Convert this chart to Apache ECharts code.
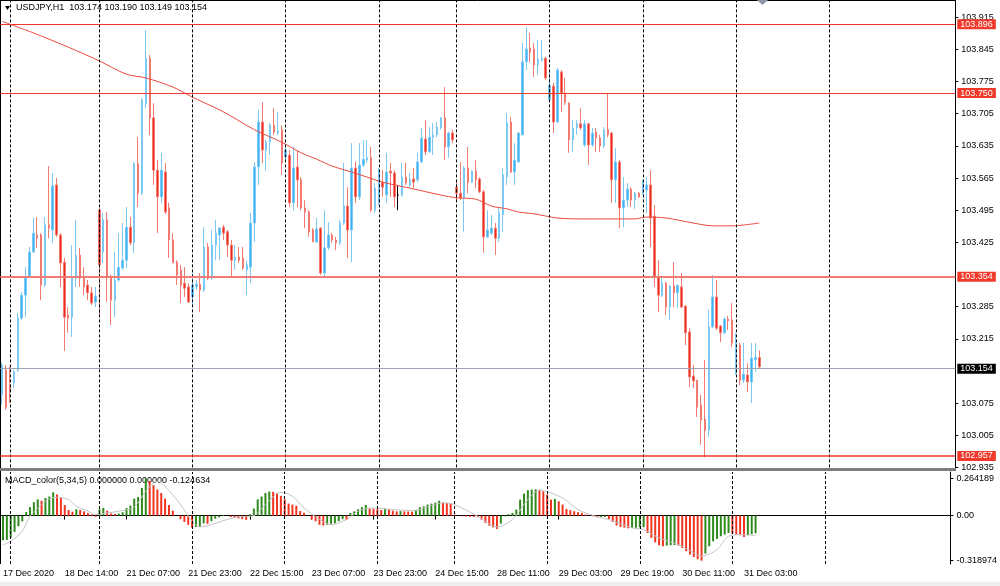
<!DOCTYPE html>
<html><head><meta charset="utf-8">
<script src="https://cdn.jsdelivr.net/npm/echarts@6/dist/echarts.min.js"></script>
<style>html,body{margin:0;padding:0;background:#fff}#c{width:1000px;height:586px}</style>
</head><body><div id="c"></div>
<script>
// ---- time axis: trading days [label, firstHour, lastHour]
const days = [['17 Dec',22,23],['18 Dec',0,22],['21 Dec',0,23],['22 Dec',0,23],['23 Dec',0,23],['24 Dec',0,19],
  ['28 Dec',0,23],['29 Dec',0,23],['30 Dec',0,23],['31 Dec',0,23],['1 Jan',0,23],['4 Jan',0,23]];
const visibleSlots = 246;
const timeLabels = ['17 Dec 22:00','18 Dec 14:00','21 Dec 07:00','21 Dec 23:00','22 Dec 15:00','23 Dec 07:00','23 Dec 23:00',
  '24 Dec 15:00','28 Dec 11:00','29 Dec 03:00','29 Dec 19:00','30 Dec 11:00','31 Dec 03:00'];
const firstLabelText = '17 Dec 2020';
const daySeps = ['18 Dec 00:00','21 Dec 00:00','22 Dec 00:00','23 Dec 00:00','24 Dec 00:00','28 Dec 00:00','29 Dec 00:00','30 Dec 00:00','31 Dec 00:00','1 Jan 00:00'];

// ---- USDJPY H1 candles
const open = [103.093,103.147,103.110,103.119,103.147,103.260,103.310,103.350,103.404,103.441,
103.441,103.332,103.463,103.452,103.550,103.441,103.382,103.267,103.262,103.347,
103.397,103.350,103.332,103.315,103.295,103.495,103.404,103.474,103.350,103.299,
103.343,103.369,103.386,103.458,103.424,103.596,103.532,103.728,103.826,103.696,
103.582,103.524,103.578,103.500,103.430,103.382,103.365,103.336,103.328,103.306,
103.328,103.334,103.321,103.415,103.347,103.419,103.441,103.458,103.448,103.419,
103.386,103.393,103.391,103.365,103.371,103.467,103.589,103.687,103.626,103.643,
103.680,103.663,103.670,103.611,103.615,103.511,103.589,103.561,103.500,103.491,
103.452,103.426,103.456,103.358,103.413,103.441,103.430,103.424,103.467,103.504,
103.452,103.587,103.524,103.593,103.604,103.609,103.495,103.511,103.556,103.528,
103.580,103.576,103.528,103.528,103.567,103.550,103.563,103.561,103.600,103.650,
103.622,103.654,103.659,103.674,103.696,103.633,103.663,103.545,103.532,103.522,
103.587,103.556,103.580,103.563,103.535,103.437,103.445,103.456,103.434,103.485,
103.567,103.687,103.578,103.600,103.659,103.818,103.848,103.846,103.811,103.822,
103.826,103.735,103.765,103.687,103.796,103.750,103.728,103.648,103.674,103.683,
103.637,103.683,103.637,103.665,103.652,103.635,103.670,103.663,103.561,103.600,
103.500,103.517,103.541,103.517,103.532,103.532,103.539,103.550,103.482,103.350,
103.310,103.336,103.284,103.330,103.315,103.328,103.286,103.230,103.134,103.125,
103.071,103.040,103.016,103.241,103.306,103.243,103.228,103.258,103.256,103.140,
103.201,103.125,103.136,103.121,103.169,103.174];
const high = [103.164,103.158,103.154,103.147,103.271,103.317,103.371,103.415,103.478,103.480,
103.445,103.480,103.591,103.576,103.565,103.445,103.391,103.284,103.419,103.474,
103.413,103.371,103.343,103.328,103.328,103.500,103.489,103.491,103.354,103.404,
103.445,103.467,103.502,103.480,103.600,103.654,103.739,103.887,103.833,103.728,
103.604,103.620,103.598,103.511,103.445,103.386,103.376,103.371,103.336,103.358,
103.343,103.358,103.458,103.424,103.452,103.474,103.458,103.463,103.452,103.430,
103.419,103.415,103.415,103.386,103.489,103.600,103.713,103.730,103.648,103.685,
103.717,103.709,103.680,103.637,103.626,103.633,103.626,103.567,103.517,103.495,
103.456,103.478,103.458,103.495,103.469,103.445,103.437,103.474,103.598,103.545,
103.641,103.600,103.641,103.648,103.648,103.633,103.554,103.587,103.582,103.620,
103.598,103.582,103.550,103.598,103.598,103.576,103.587,103.620,103.674,103.691,
103.676,103.685,103.687,103.698,103.763,103.665,103.670,103.561,103.600,103.591,
103.633,103.582,103.604,103.567,103.539,103.495,103.485,103.467,103.502,103.587,
103.707,103.698,103.641,103.665,103.859,103.894,103.881,103.859,103.866,103.866,
103.828,103.800,103.772,103.805,103.800,103.783,103.730,103.691,103.691,103.717,
103.691,103.685,103.674,103.674,103.659,103.676,103.750,103.665,103.630,103.604,
103.567,103.554,103.545,103.535,103.535,103.561,103.567,103.582,103.506,103.386,
103.350,103.339,103.332,103.382,103.332,103.358,103.289,103.238,103.158,103.125,
103.093,103.169,103.278,103.354,103.343,103.245,103.262,103.265,103.293,103.228,
103.206,103.206,103.162,103.206,103.206,103.190];
const low = [103.071,103.060,103.075,103.108,103.143,103.256,103.262,103.347,103.402,103.413,
103.299,103.328,103.434,103.424,103.437,103.328,103.188,103.228,103.219,103.328,
103.328,103.310,103.299,103.289,103.284,103.267,103.380,103.295,103.245,103.262,
103.339,103.365,103.369,103.419,103.402,103.502,103.528,103.717,103.659,103.550,
103.445,103.511,103.487,103.391,103.380,103.332,103.293,103.306,103.293,103.284,
103.321,103.273,103.317,103.343,103.343,103.386,103.386,103.430,103.393,103.350,
103.365,103.380,103.365,103.310,103.336,103.426,103.550,103.598,103.582,103.615,
103.659,103.659,103.572,103.604,103.502,103.495,103.502,103.495,103.456,103.437,
103.426,103.424,103.354,103.350,103.408,103.424,103.408,103.419,103.463,103.391,
103.382,103.511,103.517,103.589,103.598,103.491,103.489,103.506,103.524,103.511,
103.524,103.502,103.495,103.524,103.550,103.545,103.543,103.556,103.598,103.615,
103.620,103.615,103.654,103.670,103.604,103.609,103.641,103.513,103.517,103.448,
103.532,103.554,103.543,103.532,103.402,103.434,103.441,103.397,103.426,103.448,
103.550,103.576,103.550,103.598,103.659,103.800,103.818,103.785,103.789,103.818,
103.778,103.730,103.663,103.685,103.709,103.724,103.620,103.622,103.659,103.670,
103.633,103.593,103.633,103.622,103.622,103.630,103.654,103.511,103.511,103.456,
103.458,103.502,103.502,103.498,103.522,103.528,103.489,103.415,103.328,103.273,
103.306,103.267,103.256,103.284,103.282,103.282,103.201,103.110,103.108,103.045,
102.984,102.957,103.001,103.238,103.234,103.208,103.225,103.234,103.197,103.136,
103.114,103.119,103.099,103.075,103.143,103.149];
const close = [103.158,103.066,103.104,103.143,103.260,103.310,103.350,103.404,103.445,103.434,
103.332,103.463,103.456,103.548,103.441,103.380,103.262,103.260,103.347,103.397,
103.347,103.328,103.315,103.293,103.308,103.376,103.474,103.350,103.299,103.343,
103.371,103.386,103.458,103.424,103.596,103.532,103.735,103.826,103.696,103.582,
103.524,103.582,103.491,103.430,103.380,103.354,103.332,103.325,103.295,103.332,
103.334,103.321,103.415,103.347,103.419,103.445,103.456,103.445,103.419,103.386,
103.393,103.386,103.369,103.376,103.467,103.589,103.687,103.626,103.643,103.680,
103.665,103.667,103.598,103.626,103.511,103.587,103.561,103.500,103.491,103.448,
103.426,103.454,103.358,103.413,103.441,103.430,103.424,103.467,103.504,103.452,
103.587,103.524,103.593,103.606,103.609,103.495,103.543,103.578,103.545,103.578,
103.576,103.524,103.528,103.567,103.554,103.561,103.556,103.600,103.652,103.622,
103.654,103.659,103.676,103.696,103.633,103.663,103.648,103.532,103.522,103.587,
103.556,103.580,103.561,103.535,103.437,103.452,103.456,103.434,103.489,103.572,
103.685,103.578,103.604,103.663,103.818,103.846,103.839,103.811,103.824,103.826,
103.783,103.767,103.687,103.800,103.750,103.730,103.648,103.674,103.683,103.674,
103.683,103.637,103.663,103.652,103.635,103.670,103.659,103.561,103.600,103.500,
103.517,103.541,103.517,103.532,103.524,103.556,103.550,103.478,103.350,103.310,
103.336,103.284,103.330,103.315,103.332,103.284,103.228,103.132,103.123,103.066,
103.038,103.016,103.241,103.306,103.238,103.228,103.258,103.254,103.206,103.206,
103.125,103.138,103.121,103.173,103.175,103.154];

// moving average (red), read at selected bars [barIndex, price]
const maPoints = [[0,103.906],[8,103.881],[17,103.850],[25,103.820],[32,103.791],[37,103.783],[44,103.763],[49,103.741],
  [57,103.709],[65,103.670],[72,103.643],[77,103.620],[81,103.606],[85,103.591],[90,103.578],[94,103.567],[98,103.556],
  [105,103.543],[113,103.528],[117,103.522],[122,103.519],[126,103.504],[130,103.498],[133,103.491],[137,103.487],
  [143,103.478],[149,103.476],[163,103.476],[166,103.480],[171,103.478],[178,103.467],[183,103.461],[188,103.461],[195,103.467]];

// horizontal levels
const levels = [103.896, 103.750, 103.354, 102.957];
const bidPrice = 103.154;
const priceTicks = [103.915,103.845,103.775,103.705,103.635,103.565,103.495,103.425,103.285,103.215,103.075,103.005,102.935];
const priceMin = 102.935, priceMax = 103.9526;

// MACD_color(5,34,5)
const macd = [-0.175,-0.172,-0.155,-0.115,-0.075,-0.040,0.025,0.060,0.095,0.115,
0.105,0.125,0.135,0.165,0.150,0.125,0.075,0.040,0.028,0.045,
0.040,0.030,0.018,0.008,-0.008,0.045,0.055,0.035,0.015,0.012,
0.015,0.024,0.054,0.071,0.120,0.132,0.196,0.264,0.245,0.215,
0.185,0.160,0.120,0.075,0.035,0.000,-0.025,-0.045,-0.065,-0.085,
-0.080,-0.078,-0.055,-0.058,-0.040,-0.022,-0.012,0.004,0.000,-0.010,
-0.015,-0.020,-0.025,-0.030,0.010,0.050,0.115,0.135,0.160,0.170,
0.168,0.160,0.140,0.115,0.085,0.078,0.070,0.032,0.020,0.000,
-0.028,-0.040,-0.065,-0.070,-0.065,-0.058,-0.055,-0.040,-0.025,-0.030,
0.018,0.030,0.045,0.060,0.075,0.050,0.048,0.045,0.040,0.050,
0.045,0.035,0.030,0.032,0.030,0.029,0.028,0.040,0.060,0.065,
0.078,0.085,0.092,0.105,0.092,0.090,0.088,0.007,0.000,-0.005,
-0.006,-0.009,-0.010,-0.011,-0.028,-0.052,-0.071,-0.083,-0.094,-0.057,
-0.005,0.010,0.019,0.042,0.113,0.156,0.180,0.184,0.186,0.183,
0.172,0.149,0.113,0.118,0.101,0.078,0.047,0.038,0.031,0.024,
0.019,0.007,0.000,-0.005,-0.012,-0.010,-0.009,-0.024,-0.045,-0.070,
-0.080,-0.085,-0.090,-0.088,-0.086,-0.084,-0.082,-0.123,-0.158,-0.189,
-0.210,-0.217,-0.212,-0.210,-0.208,-0.212,-0.229,-0.252,-0.276,-0.293,
-0.309,-0.319,-0.269,-0.217,-0.182,-0.165,-0.146,-0.134,-0.123,-0.127,
-0.134,-0.139,-0.151,-0.140,-0.132,-0.125];
const signalPoints = [[0,-0.208],[2,-0.182],[5,-0.111],[7,-0.005],[10,0.078],[12,0.120],[14,0.130],[17,0.113],[19,0.066],
  [22,0.031],[24,0.007],[27,0.019],[30,0.031],[34,0.061],[37,0.172],[40,0.243],[42,0.208],[46,0.078],[49,-0.040],
  [51,-0.080],[54,-0.064],[58,-0.028],[61,-0.009],[65,0.000],[68,0.078],[72,0.165],[75,0.137],[78,0.054],[82,-0.028],
  [85,-0.064],[89,-0.028],[92,0.031],[96,0.054],[100,0.045],[106,0.035],[114,0.090],[117,0.078],[123,-0.005],
  [128,-0.080],[132,-0.028],[136,0.113],[139,0.179],[145,0.125],[149,0.042],[153,0.000],[157,-0.028],[163,-0.087],
  [166,-0.099],[170,-0.158],[175,-0.205],[179,-0.264],[181,-0.288],[185,-0.241],[188,-0.146],[192,-0.134],[195,-0.142]];
const macdTicks = [0.264189, 0, -0.318974];
const macdMin = -0.3425, macdMax = 0.3086;

// ---- build categories
const categories = [];
days.forEach(d => { for (let h = d[1]; h <= d[2]; h++) categories.push(d[0] + ' ' + String(h).padStart(2,'0') + ':00'); });
categories.length = visibleSlots;
const labelSet = new Set(timeLabels);

const FONT = 'Liberation Sans';
const BULL = '#3fb2f2', BULL_W = '#7cc9f5', BEAR = '#ee2a1c', BEAR_W = '#f27a70';
const candleData = open.map((o, i) => {
  const item = { value: [o, close[i], low[i], high[i]] };
  if (o === close[i]) item.itemStyle = { color: '#000', color0: '#000', borderColor: '#000', borderColor0: '#000' };
  return item;
});

const sepLine = { lineStyle: { color: '#000', width: 1, type: [3, 2] } };
const levelColors = ['#f0392b', '#f0392b', '#f27b73', '#f0392b'];
const levelWidths = [1, 1, 2, 1.5];
const mainMarks = daySeps.map(d => Object.assign({ xAxis: d, label: { show: false } }, sepLine));
levels.forEach((v, k) => mainMarks.push({
  yAxis: v,
  lineStyle: { color: levelColors[k], width: levelWidths[k], type: 'solid' },
  label: { show: true, position: 'end', distance: 2, formatter: () => v.toFixed(3), color: '#fff',
           backgroundColor: '#f0392b', padding: [1, 3, 0, 3], fontSize: 9, fontFamily: FONT }
}));
mainMarks.push({
  yAxis: bidPrice,
  lineStyle: { color: '#9aa3b3', width: 1, type: 'solid' },
  label: { show: true, position: 'end', distance: 2, formatter: () => bidPrice.toFixed(3), color: '#fff',
           backgroundColor: '#000', padding: [1, 3, 0, 3], fontSize: 9, fontFamily: FONT }
});

const chart = echarts.init(document.getElementById('c'), null, { renderer: 'canvas' });
chart.setOption({
  animation: false,
  backgroundColor: '#fff',
  textStyle: { fontFamily: FONT },
  grid: [
    { left: 0.3, top: 0, width: 955, height: 467.4 },
    { left: 0.3, top: 472, width: 955, height: 92 }
  ],
  xAxis: [
    { type: 'category', gridIndex: 0, data: categories, boundaryGap: true, show: false },
    { type: 'category', gridIndex: 1, data: categories, boundaryGap: true, position: 'bottom',
      axisLine: { show: true, lineStyle: { color: '#000', width: 1 } },
      axisTick: { show: true, alignWithLabel: true, length: 4, interval: (i, v) => labelSet.has(v), lineStyle: { color: '#000' } },
      axisLabel: { show: true, interval: (i, v) => labelSet.has(v), align: 'left', margin: 5, fontSize: 9, color: '#000',
                   formatter: v => v === timeLabels[0] ? firstLabelText : v },
      splitLine: { show: false } }
  ],
  yAxis: [
    { type: 'value', gridIndex: 0, position: 'right', min: priceMin, max: priceMax,
      axisLine: { show: true, lineStyle: { color: '#000' } },
      axisTick: { show: true, customValues: priceTicks, length: 3, lineStyle: { color: '#000' } },
      axisLabel: { show: true, customValues: priceTicks, formatter: v => v.toFixed(3), fontSize: 9, color: '#000', margin: 6 },
      splitLine: { show: false } },
    { type: 'value', gridIndex: 1, position: 'right', min: macdMin, max: macdMax,
      axisLine: { show: true, lineStyle: { color: '#000' } },
      axisTick: { show: true, customValues: macdTicks, length: 3, lineStyle: { color: '#000' } },
      axisLabel: { show: true, customValues: macdTicks, formatter: v => v === 0 ? '0.00' : v.toFixed(6), fontSize: 9, color: '#000', margin: 6 },
      splitLine: { show: false } }
  ],
  series: [
    { type: 'candlestick', xAxisIndex: 0, yAxisIndex: 0, data: candleData, barWidth: 2,
      itemStyle: { color: BULL, color0: BEAR, borderColor: BULL_W, borderColor0: BEAR_W, borderWidth: 1 },
      markLine: { silent: true, symbol: ['none', 'none'], animation: false, data: mainMarks } },
    { type: 'line', xAxisIndex: 0, yAxisIndex: 0, data: maPoints, showSymbol: false, symbol: 'none', smooth: 0.3,
      lineStyle: { color: '#ec4a3e', width: 1 }, z: 3 },
    { type: 'bar', xAxisIndex: 1, yAxisIndex: 1, data: macd, barWidth: 2,
      itemStyle: { color: p => (p.dataIndex === 0 || macd[p.dataIndex] >= macd[p.dataIndex - 1]) ? '#2e8a1c' : '#f2331f' },
      markLine: { silent: true, symbol: ['none', 'none'], animation: false,
                  data: daySeps.map(d => Object.assign({ xAxis: d, label: { show: false } }, sepLine)) } },
    { type: 'line', xAxisIndex: 1, yAxisIndex: 1, data: signalPoints, showSymbol: false, symbol: 'none', smooth: 0.3,
      lineStyle: { color: '#c4c4c4', width: 1 }, z: 3 }
  ],
  graphic: [
    { type: 'line', shape: { x1: 0, y1: 0.5, x2: 955.5, y2: 0.5 }, style: { stroke: '#000', lineWidth: 1 } },
    { type: 'line', shape: { x1: 0.5, y1: 0, x2: 0.5, y2: 564 }, style: { stroke: '#000', lineWidth: 1 } },
    { type: 'rect', shape: { x: 0, y: 468, width: 956, height: 3 }, style: { fill: '#7d7d7d' } },
    { type: 'rect', shape: { x: 0, y: 582, width: 1000, height: 4 }, style: { fill: '#eeeeee' } },
    { type: 'polygon', shape: { points: [[5, 6], [10, 6], [7.5, 10]] }, style: { fill: '#000' } },
    { type: 'polygon', shape: { points: [[757, 0], [768, 0], [762.5, 5]] }, style: { fill: '#8a96a6' } },
    { type: 'text', left: 16, top: 3, style: { text: 'USDJPY,H1  103.174 103.190 103.149 103.154', fontSize: 9, fill: '#000', fontFamily: FONT } },
    { type: 'text', left: 5, top: 476, style: { text: 'MACD_color(5,34,5) 0.000000 0.000000 -0.124634', fontSize: 9, fill: '#000', fontFamily: FONT } }
  ]
});
</script>
</body></html>
